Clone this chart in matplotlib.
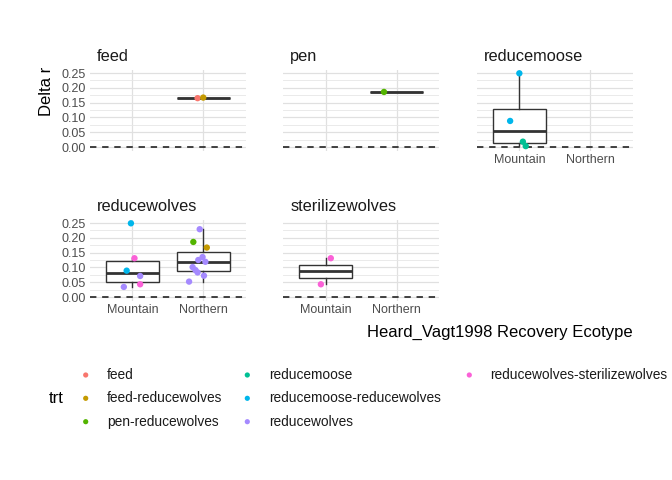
import numpy as np
import matplotlib.pyplot as plt

plt.rcParams['font.family'] = ['Liberation Sans', 'DejaVu Sans']

facets = ['feed', 'pen', 'reducemoose', 'reducewolves', 'sterilizewolves']
ecotypes = ['Mountain', 'Northern']
treatments = ['feed', 'feed-reducewolves', 'pen-reducewolves', 'reducemoose',
              'reducemoose-reducewolves', 'reducewolves',
              'reducewolves-sterilizewolves']
trt_colors = ['#F8766D', '#C49A00', '#53B400', '#00C094',
              '#00B6EB', '#A58AFF', '#FB61D7']
yticks = [0.00, 0.05, 0.10, 0.15, 0.20, 0.25]

# one entry per point (facet, ecotype, treatment, delta r)
facet = ['feed', 'feed',
         'pen',
         'reducemoose', 'reducemoose', 'reducemoose', 'reducemoose',
         'reducewolves', 'reducewolves', 'reducewolves', 'reducewolves',
         'reducewolves', 'reducewolves',
         'reducewolves', 'reducewolves', 'reducewolves', 'reducewolves',
         'reducewolves', 'reducewolves', 'reducewolves', 'reducewolves',
         'reducewolves', 'reducewolves', 'reducewolves',
         'sterilizewolves', 'sterilizewolves']
ecotype = ['Northern', 'Northern',
           'Northern',
           'Mountain', 'Mountain', 'Mountain', 'Mountain',
           'Mountain', 'Mountain', 'Mountain', 'Mountain',
           'Mountain', 'Mountain',
           'Northern', 'Northern', 'Northern', 'Northern',
           'Northern', 'Northern', 'Northern', 'Northern',
           'Northern', 'Northern', 'Northern',
           'Mountain', 'Mountain']
trt = ['feed', 'feed-reducewolves',
       'pen-reducewolves',
       'reducemoose-reducewolves', 'reducemoose-reducewolves',
       'reducemoose', 'reducemoose',
       'reducemoose-reducewolves', 'reducewolves-sterilizewolves',
       'reducemoose-reducewolves', 'reducewolves',
       'reducewolves-sterilizewolves', 'reducewolves',
       'reducewolves', 'pen-reducewolves', 'feed-reducewolves', 'reducewolves',
       'reducewolves', 'reducewolves', 'reducewolves', 'reducewolves',
       'reducewolves', 'reducewolves', 'reducewolves',
       'reducewolves-sterilizewolves', 'reducewolves-sterilizewolves']
delta_r = [0.165, 0.167,
           0.186,
           0.249, 0.088, 0.018, 0.003,
           0.249, 0.131, 0.089, 0.071, 0.043, 0.034,
           0.229, 0.186, 0.167, 0.135, 0.125, 0.119,
           0.101, 0.091, 0.083, 0.072, 0.052,
           0.131, 0.043]
# horizontal jitter (category units)
jitter = [-0.08, 0.0,
          -0.18,
          0.0, -0.13, 0.05, 0.09,
          -0.02, 0.03, -0.08, 0.11, 0.11, -0.12,
          -0.05, -0.14, 0.05, -0.01, -0.07, 0.03,
          -0.15, -0.11, -0.08, 0.01, -0.20,
          0.07, -0.07]

facet = np.array(facet)
ecotype = np.array(ecotype)
trt = np.array(trt)
delta_r = np.array(delta_r)
jitter = np.array(jitter)

W, H = 672, 480
fig = plt.figure(figsize=(W / 100, H / 100), dpi=100)


def px_axes(left, top, width, height):
    return fig.add_axes([left / W, 1 - (top + height) / H, width / W, height / H])


lefts = [89.8, 283.3, 476.8]
tops = [69.6, 219.6]
pw, ph = 156, 81.1
line_col = '#333333'

for i, fname in enumerate(facets):
    row, col = divmod(i, 3)
    ax = px_axes(lefts[col], tops[row], pw, ph)

    ax.axhline(0, color='#1A1A1A', lw=1.15, ls=(0, (4.0, 3.6)), zorder=1.5)

    sel = facet == fname
    for k, eco in enumerate(ecotypes):
        m = sel & (ecotype == eco)
        if not m.any():
            continue
        ax.boxplot(delta_r[m], positions=[k], widths=0.75, showfliers=False,
                   showcaps=False, whis=1.5, patch_artist=True, manage_ticks=False,
                   boxprops=dict(facecolor='white', edgecolor=line_col, lw=1.0),
                   whiskerprops=dict(color=line_col, lw=1.0),
                   medianprops=dict(color=line_col, lw=2.0),
                   zorder=2)
        xs = k + jitter[m]
        cols = [trt_colors[treatments.index(t)] for t in trt[m]]
        ax.scatter(xs, delta_r[m], s=21, c=cols, edgecolors='none', zorder=3)

    ax.set_xlim(-0.6, 1.6)
    ax.set_ylim(-0.0125, 0.2615)
    ax.set_xticks([0, 1])
    ax.set_xticklabels(ecotypes)
    ax.set_yticks(yticks)
    ax.set_yticklabels(['{:.2f}'.format(t) for t in yticks])
    ax.set_yticks(np.arange(0.025, 0.25, 0.05), minor=True)
    ax.grid(which='major', color='#E0E0E0', lw=0.9)
    ax.grid(which='minor', axis='y', color='#E6E6E6', lw=0.6)
    ax.set_axisbelow(True)
    for s in ax.spines.values():
        s.set_visible(False)
    ax.tick_params(which='both', length=0, labelsize=9, labelcolor='#4D4D4D', pad=2.5)
    ax.tick_params(axis='y', pad=3)
    if col != 0:
        ax.tick_params(labelleft=False)
    if not (row == 1 or col == 2):
        ax.tick_params(labelbottom=False)

    ax.text(7.0 / pw, 1 + 8.2 / ph, fname, transform=ax.transAxes,
            ha='left', va='baseline', fontsize=11.8, color='#1A1A1A')

# axis titles
fig.text(46.5 / W, 1 - 67 / H, 'Delta r', rotation=90, ha='center', va='top',
         fontsize=12)
fig.text((lefts[2] + pw) / W, 1 - 337 / H, 'Heard_Vagt1998 Recovery Ecotype',
         ha='right', va='baseline', fontsize=12)

# legend
leg = fig.add_axes([0, 0, 1, 1])
leg.set_xlim(0, W)
leg.set_ylim(H, 0)
leg.axis('off')
key_x = [85.7, 247.3, 469.3]
label_x = [106.7, 269.3, 490.0]
row_y = [375.0, 398.3, 421.7]
leg.text(48.3, 398.3, 'trt', ha='left', va='center', fontsize=12)
for j, name in enumerate(treatments):
    c, r = divmod(j, 3)
    leg.scatter(key_x[c], row_y[r], s=14, color=trt_colors[j], edgecolors='none')
    leg.text(label_x[c], row_y[r], name, ha='left', va='center', fontsize=9.9,
             color='#1A1A1A')

fig.savefig('out.png', dpi=100)
